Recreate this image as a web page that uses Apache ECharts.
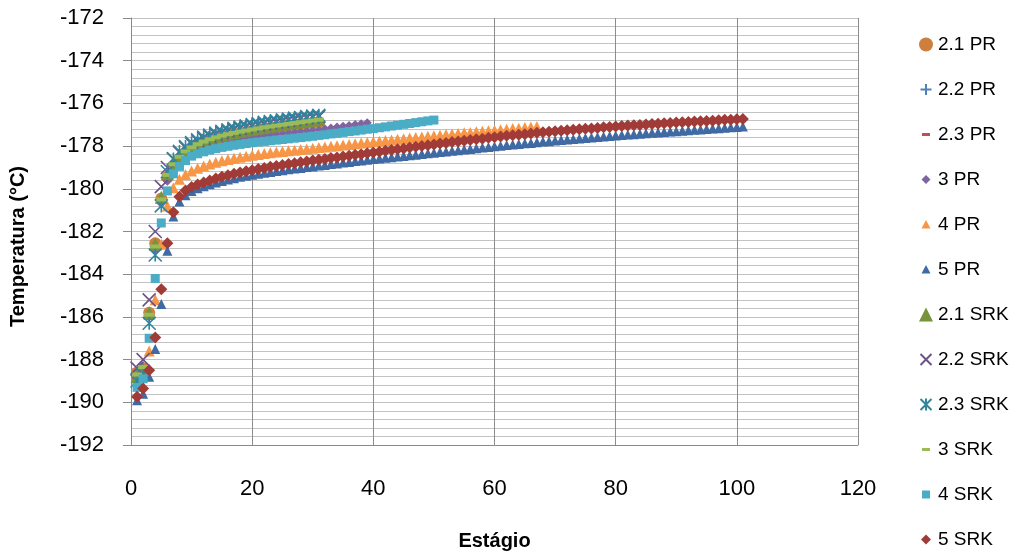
<!DOCTYPE html>
<html>
<head>
<meta charset="utf-8">
<script src="https://cdn.jsdelivr.net/npm/echarts@6/dist/echarts.min.js"></script>
<style>
html,body{margin:0;padding:0;background:#fff;}
#chart{width:1016px;height:558px;}
</style>
</head>
<body>
<div id="chart"></div>
<script>
// Temperature (°C) per stage (stage = position in array, starting at 1)
const seriesNames = ['2.1 PR','2.2 PR','2.3 PR','3 PR','4 PR','5 PR','2.1 SRK','2.2 SRK','2.3 SRK','3 SRK','4 SRK','5 SRK'];
const xTicks = [0,20,40,60,80,100,120];
const yTicks = [-192,-190,-188,-186,-184,-182,-180,-178,-176,-174,-172];

const pr21 = [-188.60,-188.40,-185.80,-182.55,-180.45,-179.45,-178.95,-178.62,-178.38,-178.18,-178.02,-177.89,-177.78,-177.68,-177.60,-177.52,-177.46,-177.40,-177.34,-177.29,-177.24,-177.19,-177.15,-177.11,-177.07,-177.04,-177.00,-176.97,-176.94,-176.91,-176.88];
const pr22 = [-188.75,-188.45,-185.95,-182.70,-180.55,-179.50,-179.00,-178.66,-178.42,-178.22,-178.06,-177.93,-177.82,-177.72,-177.63,-177.56,-177.49,-177.43,-177.37,-177.32,-177.27,-177.22,-177.18,-177.14,-177.10,-177.06,-177.03,-177.00,-176.97,-176.94,-176.91];
const pr23 = [-188.85,-188.55,-186.05,-182.80,-180.60,-179.55,-179.05,-178.70,-178.46,-178.26,-178.10,-177.97,-177.86,-177.76,-177.67,-177.59,-177.52,-177.46,-177.40,-177.35,-177.30,-177.25,-177.21,-177.17,-177.13,-177.09,-177.06,-177.03,-177.00,-176.97,-176.94];
const pr3 = [-188.80,-188.50,-186.00,-182.90,-180.70,-179.65,-179.15,-178.82,-178.60,-178.43,-178.29,-178.17,-178.07,-177.98,-177.90,-177.83,-177.77,-177.71,-177.66,-177.61,-177.57,-177.53,-177.49,-177.45,-177.42,-177.38,-177.35,-177.32,-177.29,-177.26,-177.23,-177.19,-177.15,-177.11,-177.07,-177.03,-176.99,-176.95,-176.91];
const pr4 = [-189.00,-188.70,-187.60,-185.20,-182.60,-180.80,-179.95,-179.55,-179.33,-179.17,-179.04,-178.93,-178.84,-178.76,-178.69,-178.63,-178.57,-178.52,-178.47,-178.43,-178.39,-178.35,-178.31,-178.28,-178.25,-178.22,-178.19,-178.16,-178.13,-178.10,-178.07,-178.04,-178.01,-177.98,-177.95,-177.92,-177.89,-177.86,-177.83,-177.80,-177.77,-177.74,-177.71,-177.68,-177.65,-177.62,-177.60,-177.57,-177.54,-177.51,-177.49,-177.46,-177.43,-177.41,-177.38,-177.36,-177.33,-177.31,-177.28,-177.26,-177.23,-177.21,-177.18,-177.16,-177.13,-177.11,-177.08];
const pr5 = [-189.90,-189.60,-188.80,-187.50,-185.40,-182.90,-181.30,-180.60,-180.30,-180.10,-179.98,-179.88,-179.79,-179.71,-179.63,-179.56,-179.50,-179.44,-179.39,-179.34,-179.30,-179.25,-179.21,-179.17,-179.13,-179.09,-179.05,-179.02,-178.98,-178.95,-178.91,-178.88,-178.84,-178.81,-178.77,-178.74,-178.70,-178.67,-178.64,-178.61,-178.58,-178.55,-178.52,-178.49,-178.46,-178.43,-178.40,-178.37,-178.34,-178.31,-178.28,-178.25,-178.22,-178.19,-178.16,-178.13,-178.10,-178.07,-178.04,-178.01,-177.98,-177.95,-177.93,-177.90,-177.87,-177.85,-177.82,-177.79,-177.77,-177.74,-177.72,-177.69,-177.67,-177.64,-177.62,-177.60,-177.57,-177.55,-177.53,-177.50,-177.48,-177.46,-177.44,-177.42,-177.40,-177.38,-177.36,-177.34,-177.32,-177.30,-177.28,-177.26,-177.24,-177.22,-177.20,-177.18,-177.16,-177.14,-177.12,-177.10,-177.08];
const srk21 = [-188.80,-188.45,-185.80,-182.60,-180.40,-179.30,-178.80,-178.45,-178.20,-178.02,-177.88,-177.76,-177.65,-177.56,-177.48,-177.42,-177.36,-177.30,-177.25,-177.20,-177.15,-177.10,-177.06,-177.02,-176.98,-176.94,-176.90,-176.86,-176.82,-176.78,-176.74];
const srk22 = [-188.40,-188.00,-185.20,-182.00,-179.90,-179.00,-178.60,-178.30,-178.08,-177.90,-177.76,-177.64,-177.54,-177.45,-177.37,-177.30,-177.23,-177.17,-177.11,-177.06,-177.01,-176.96,-176.92,-176.88,-176.84,-176.80,-176.76,-176.72,-176.68,-176.65,-176.62];
const srk23 = [-189.00,-188.70,-186.30,-183.10,-180.80,-179.20,-178.60,-178.25,-178.02,-177.84,-177.70,-177.58,-177.48,-177.39,-177.31,-177.24,-177.17,-177.11,-177.05,-176.99,-176.94,-176.89,-176.85,-176.81,-176.77,-176.73,-176.69,-176.66,-176.62,-176.59,-176.56];
const srk3 = [-188.70,-188.35,-185.90,-182.70,-180.50,-179.35,-178.85,-178.50,-178.25,-178.06,-177.91,-177.79,-177.68,-177.59,-177.51,-177.44,-177.38,-177.32,-177.27,-177.22,-177.17,-177.12,-177.08,-177.04,-177.00,-176.96,-176.92,-176.88,-176.84,-176.80,-176.76];
const srk4 = [-189.30,-188.90,-187.00,-184.20,-181.60,-180.10,-179.30,-178.95,-178.68,-178.47,-178.36,-178.27,-178.19,-178.12,-178.06,-178.01,-177.96,-177.92,-177.88,-177.84,-177.81,-177.78,-177.75,-177.72,-177.69,-177.66,-177.63,-177.60,-177.57,-177.54,-177.50,-177.47,-177.43,-177.40,-177.36,-177.32,-177.29,-177.25,-177.21,-177.18,-177.14,-177.10,-177.06,-177.02,-176.98,-176.94,-176.90,-176.86,-176.82,-176.78];
const srk5 = [-189.74,-189.35,-188.50,-186.96,-184.70,-182.55,-181.10,-180.37,-180.08,-179.92,-179.80,-179.70,-179.61,-179.52,-179.44,-179.37,-179.30,-179.24,-179.18,-179.13,-179.07,-179.02,-178.97,-178.93,-178.88,-178.84,-178.80,-178.76,-178.72,-178.68,-178.64,-178.60,-178.56,-178.53,-178.49,-178.45,-178.41,-178.38,-178.34,-178.30,-178.26,-178.22,-178.18,-178.15,-178.11,-178.07,-178.03,-177.99,-177.96,-177.92,-177.88,-177.85,-177.81,-177.78,-177.75,-177.71,-177.68,-177.65,-177.61,-177.58,-177.55,-177.52,-177.49,-177.47,-177.44,-177.41,-177.38,-177.35,-177.33,-177.30,-177.28,-177.26,-177.24,-177.21,-177.19,-177.17,-177.15,-177.12,-177.10,-177.08,-177.06,-177.04,-177.02,-177.01,-176.99,-176.97,-176.95,-176.93,-176.92,-176.90,-176.88,-176.87,-176.85,-176.84,-176.82,-176.81,-176.79,-176.77,-176.76,-176.74,-176.73];

const seriesValues = [pr21, pr22, pr23, pr3, pr4, pr5, srk21, srk22, srk23, srk3, srk4, srk5];

const PLUS = 'path://M5,0L5,10M0,5L10,5';
const CROSS = 'path://M0,0L10,10M10,0L0,10';
const STAR = 'path://M5,0L5,10M0,0L10,10M10,0L0,10';

const styles = [
  {symbol:'circle', size:12, color:'#CD7F3E', icon:'circle'},
  {symbol:PLUS, size:11, color:'#4F81BD', stroke:true, icon:'path://M0,0M14,14M7,1.5V12.5M1.5,7H12.5'},
  {symbol:'rect', size:[10,4], color:'#C0504D', icon:'path://M0,0M14,14M3,5.5H11V8.5H3Z'},
  {symbol:'diamond', size:9, color:'#8064A2', icon:'path://M0,0M14,14M7,2.5L11.5,7L7,11.5L2.5,7Z'},
  {symbol:'triangle', size:11, color:'#F79646', icon:'path://M0,0M14,14M7,2.5L11.5,11H2.5Z'},
  {symbol:'triangle', size:10, color:'#3F6AA3', icon:'path://M0,0M14,14M7,2.5L11.5,11H2.5Z'},
  {symbol:'triangle', size:13, color:'#77933C', icon:'triangle'},
  {symbol:CROSS, size:13, color:'#6B5388', stroke:true, icon:'path://M0,0M14,14M1.5,1.5L12.5,12.5M12.5,1.5L1.5,12.5'},
  {symbol:STAR, size:13, color:'#31859C', stroke:true, icon:'path://M0,0M14,14M7,1V13M1.5,1.5L12.5,12.5M12.5,1.5L1.5,12.5'},
  {symbol:'rect', size:[10,4], color:'#9BBB59', icon:'path://M0,0M14,14M3,5.5H11V8.5H3Z'},
  {symbol:'rect', size:9, color:'#4BACC6', icon:'path://M0,0M14,14M3,3H11V11H3Z'},
  {symbol:'diamond', size:12, color:'#A13B38', icon:'path://M0,0M14,14M7,2L12,7L7,12L2,7Z'}
];

const FONT = "'Liberation Sans', Arial, sans-serif";

const series = seriesNames.map((name, k) => {
  const st = styles[k];
  const itemStyle = st.stroke
    ? {color: st.color, borderColor: st.color, borderWidth: 1.6, opacity: 1}
    : {color: st.color, borderWidth: 0, opacity: 1};
  return {
    name: name,
    type: 'scatter',
    symbol: st.symbol,
    symbolSize: st.size,
    itemStyle: itemStyle,
    data: seriesValues[k].map((v, i) => [i + 1, v]),
    z: 2 + k
  };
});

const chart = echarts.init(document.getElementById('chart'), null, {renderer: 'canvas'});
chart.setOption({
  animation: false,
  backgroundColor: '#ffffff',
  grid: {left: 131, right: 158, top: 18, bottom: 113, containLabel: false},
  legend: {
    orient: 'vertical',
    left: 913,
    top: 30,
    height: 540,
    itemWidth: 14,
    itemHeight: 14,
    itemGap: 26,
    textStyle: {fontFamily: FONT, fontSize: 19, color: '#000'},
    data: seriesNames.map((n, k) => ({name: n, icon: styles[k].icon}))
  },
  xAxis: {
    type: 'value',
    min: xTicks[0],
    max: xTicks[xTicks.length - 1],
    interval: xTicks[1] - xTicks[0],
    name: 'Estágio',
    nameLocation: 'middle',
    nameGap: 86,
    nameTextStyle: {fontFamily: FONT, fontSize: 20, fontWeight: 'bold', color: '#000'},
    axisLine: {show: true, onZero: false, lineStyle: {color: '#898989', width: 1}},
    axisTick: {show: false},
    axisLabel: {margin: 33, fontFamily: FONT, fontSize: 22, color: '#000'},
    splitLine: {show: true, lineStyle: {color: '#8C8C8C', width: 1}}
  },
  yAxis: {
    type: 'value',
    min: yTicks[0],
    max: yTicks[yTicks.length - 1],
    interval: yTicks[1] - yTicks[0],
    name: 'Temperatura (°C)',
    nameLocation: 'middle',
    nameGap: 103,
    nameRotate: 90,
    nameTextStyle: {fontFamily: FONT, fontSize: 20, fontWeight: 'bold', color: '#000', padding: [0, 30, 0, 0]},
    axisLine: {show: true, onZero: false, lineStyle: {color: '#898989', width: 1}},
    axisTick: {show: true, inside: false, length: 8, lineStyle: {color: '#898989'}},
    axisLabel: {margin: 27, fontFamily: FONT, fontSize: 22, color: '#000'},
    splitLine: {show: true, lineStyle: {color: '#C3C3C3', width: 1}},
    minorTick: {show: false, splitNumber: 5},
    minorSplitLine: {show: true, lineStyle: {color: '#C3C3C3', width: 1}}
  },
  series: series
});
</script>
</body>
</html>
